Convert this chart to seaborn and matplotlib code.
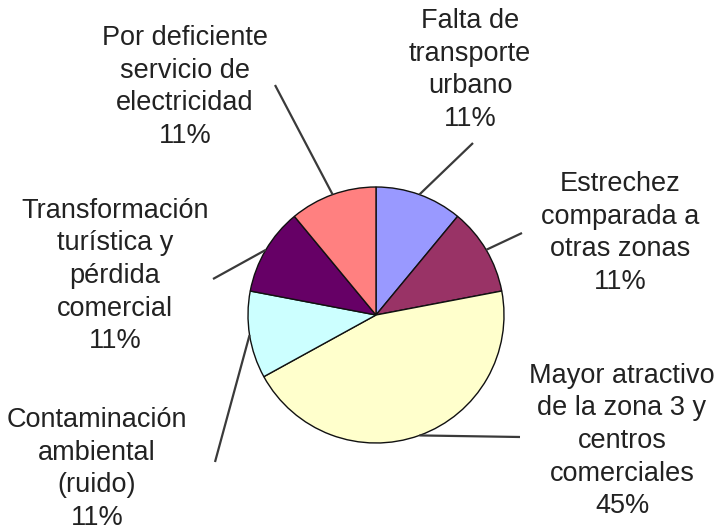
import numpy as np
import matplotlib
matplotlib.use("Agg")
import matplotlib.pyplot as plt
import seaborn as sns

# ---- data ----
categories = [
    "Falta de\ntransporte\nurbano",
    "Estrechez\ncomparada a\notras zonas",
    "Mayor atractivo\nde la zona 3 y\ncentros\ncomerciales",
    "Contaminación\nambiental\n(ruido)",
    "Transformación\nturística y\npérdida\ncomercial",
    "Por deficiente\nservicio de\nelectricidad",
]
values = [11, 11, 45, 11, 11, 11]
colors = ["#9999FF", "#993366", "#FFFFCC", "#CCFFFF", "#660066", "#FF8080"]

# ---- layout (pixel positions of the label block centres and leader starts) ----
W, H = 725, 532
CX, CY, R = 376, 315, 128
label_px = [(470, 70), (620, 233), (622, 441), (97, 469), (115, 276), (185, 87)]
leader_px = [(473, 143), (522, 233), (520, 437), (215, 462), (213, 279), (275, 85)]

sns.set_theme(style="white")
plt.rcParams["font.family"] = ["Liberation Sans", "DejaVu Sans"]

fig = plt.figure(figsize=(W / 100, H / 100), dpi=100)
ax = fig.add_axes([0, 0, 1, 1])

wedges, _ = ax.pie(values, colors=colors, startangle=90, counterclock=False,
                   radius=1.0, center=(0, 0), frame=True,
                   wedgeprops=dict(edgecolor="#111111", linewidth=1.0))
ax.set_xlim(-CX / R, (W - CX) / R)
ax.set_ylim(-(H - CY) / R, CY / R)
ax.set_aspect("equal")
ax.axis("off")

def px2d(p):
    return ((p[0] - CX) / R, (CY - p[1]) / R)

total = sum(values)
for w, cat, v, lp, sp in zip(wedges, categories, values, label_px, leader_px):
    ang = np.deg2rad((w.theta1 + w.theta2) / 2)
    ex, ey = np.cos(ang), np.sin(ang)
    sx, sy = px2d(sp)
    ax.plot([sx, ex], [sy, ey], color="#3a3a3a", lw=1.6, solid_capstyle="butt")
    tx, ty = px2d(lp)
    pct = round(100 * v / total)
    ax.text(tx, ty, f"{cat}\n{pct}%", ha="center", va="center",
            fontsize=19.5, color="#222222", linespacing=1.33)

fig.savefig("out.png", dpi=100)
